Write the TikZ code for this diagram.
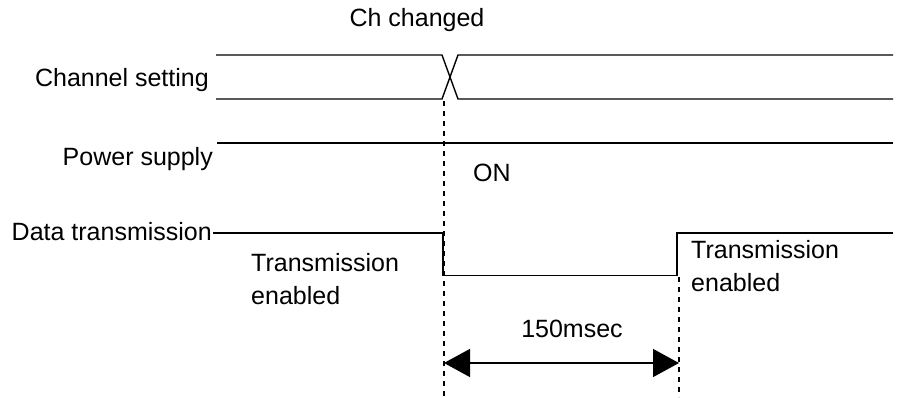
\documentclass[tikz,border=0pt]{standalone}
\usepackage{fontspec}
\setmainfont{Liberation Sans}
\usetikzlibrary{arrows.meta}
\begin{document}
\begin{tikzpicture}[x=1pt,y=-1pt,
  sig/.style={line width=1.4pt, line join=miter},
  marker/.style={line width=1.6pt, dash pattern=on 5pt off 5pt},
  lbl/.style={inner sep=0pt, font=\fontsize{25}{33}\selectfont},
  span/.style={line width=1.4pt,
    {Triangle[length=26pt,width=28pt]}-{Triangle[length=26pt,width=28pt]}}]
\useasboundingbox (0,0) rectangle (899,397);

% --- key points of the three signal lines ---
% channel setting (two rails with a crossover at the change)
\coordinate (chTopL) at (216,55);
\coordinate (chBotL) at (216,99);
\coordinate (chX1T) at (442,55);
\coordinate (chX1B) at (442,99);
\coordinate (chX2T) at (458,55);
\coordinate (chX2B) at (458,99);
\coordinate (chTopR) at (893,55);
\coordinate (chBotR) at (893,99);
% power supply
\coordinate (pwL) at (217,143);
\coordinate (pwR) at (893,143);
% data transmission
\coordinate (dtL) at (213,233);
\coordinate (dtFallT) at (443,233);
\coordinate (dtFallB) at (443,275.5);
\coordinate (dtRiseB) at (677,275.5);
\coordinate (dtRiseT) at (677,233);
\coordinate (dtR) at (893,233);
% timing markers
\coordinate (mk1T) at (444,101);
\coordinate (mk1B) at (444,397);
\coordinate (mk2T) at (679,277);
\coordinate (mk2B) at (679,397);
\coordinate (spanL) at (444,363);
\coordinate (spanR) at (679,363);

% --- signals ---
\draw[sig] (chTopL) -- (chX1T) -- (chX2B) -- (chBotR);
\draw[sig] (chBotL) -- (chX1B) -- (chX2T) -- (chTopR);
\draw[sig] (pwL) -- (pwR);
\draw[sig] (dtL) -- (dtFallT) -- (dtFallB) -- (dtRiseB) -- (dtRiseT) -- (dtR);

% --- markers and duration ---
\draw[marker] (mk1T) -- (mk1B);
\draw[marker] (mk2T) -- (mk2B);
\draw[span] (spanL) -- (spanR);

% --- labels (two-line labels are placed by the baseline of their last line) ---
\node[lbl, anchor=base] (chg) at (417,26) {Ch changed};
\node[lbl, anchor=base east] (chset) at (209,86) {Channel setting};
\node[lbl, anchor=base east] (pwr) at (213,165) {Power supply};
\node[lbl, anchor=base west] (on) at (473,181) {ON};
\node[lbl, anchor=base east] (dtx) at (212,240) {Data transmission};
\node[lbl, anchor=base west, align=left] (en1) at (251,304) {Transmission\\enabled};
\node[lbl, anchor=base west, align=left] (en2) at (691,291) {Transmission\\enabled};
\node[lbl, anchor=base] (dur) at (572,337) {150msec};
\end{tikzpicture}
\end{document}
